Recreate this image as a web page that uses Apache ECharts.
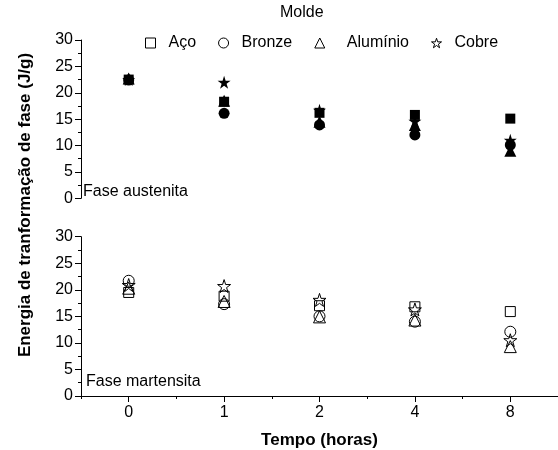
<!DOCTYPE html>
<html>
<head>
<meta charset="utf-8">
<script src="https://cdn.jsdelivr.net/npm/echarts@6/dist/echarts.min.js"></script>
<style>html,body{margin:0;padding:0;background:#fff}#c{width:558px;height:450px}</style>
</head>
<body>
<div id="c"></div>
<script>
var categories = ['0', '1', '2', '4', '8'];
var seriesNames = ['Aço', 'Bronze', 'Alumínio', 'Cobre'];
var yTicks = [0, 5, 10, 15, 20, 25, 30];

// Fase austenita (top panel, filled symbols)
var austAco      = [22.5, 18.3, 16.2, 15.8, 15.1];
var austBronze   = [22.4, 16.1, 13.9, 12.0, 10.1];
var austAluminio = [22.7, 18.5, 14.5, 13.9, 9.0];
var austCobre    = [22.5, 22.0, 16.7, 14.6, 11.0];

// Fase martensita (bottom panel, open symbols)
var martAco      = [19.5, 18.8, 17.0, 16.8, 15.9];
var martBronze   = [21.7, 17.3, 15.0, 14.0, 12.1];
var martAluminio = [20.3, 17.8, 14.9, 14.3, 9.3];
var martCobre    = [20.9, 20.7, 18.1, 16.3, 10.5];

var FONT = 'Liberation Sans, Arial, Helvetica, sans-serif';
var STAR = 'path://M50,0 L61.2,34.5 L97.6,34.5 L68.2,55.9 L79.4,90.5 L50,69.1 L20.6,90.5 L31.8,55.9 L2.4,34.5 L38.8,34.5 Z';
var symbols = ['rect', 'circle', 'triangle', STAR];
var sizes = [10, 11, 12, 13];

var austData = [austAco, austBronze, austAluminio, austCobre];
var martData = [martAco, martBronze, martAluminio, martCobre];

var chart = echarts.init(document.getElementById('c'), null, {renderer: 'canvas'});

var yMin = yTicks[0], yMax = yTicks[yTicks.length - 1];

function yMajor(gi) {
  return {
    type: 'value', gridIndex: gi, position: 'left', min: yMin, max: yMax, interval: 5,
    axisLine: {show: true, lineStyle: {color: '#000', width: 1}},
    axisTick: {show: true, inside: false, length: 6, lineStyle: {color: '#000', width: 1}},
    splitLine: {show: false},
    axisLabel: {color: '#000', fontSize: 16, fontFamily: FONT, margin: 8}
  };
}
function yMinor(gi) {
  return {
    type: 'value', gridIndex: gi, position: 'left', offset: 0, min: yMin, max: yMax, interval: 2.5,
    axisLine: {show: false},
    axisTick: {show: true, inside: false, length: 3, lineStyle: {color: '#000', width: 1}},
    splitLine: {show: false},
    axisLabel: {show: false}
  };
}

var series = [];
for (var i = 0; i < 4; i++) {
  series.push({
    name: seriesNames[i], type: 'scatter', xAxisIndex: 0, yAxisIndex: 0,
    symbol: symbols[i], symbolSize: sizes[i],
    itemStyle: {color: '#000', borderColor: '#000', borderWidth: 0, opacity: 1},
    data: austData[i]
  });
}
for (var j = 0; j < 4; j++) {
  series.push({
    name: seriesNames[j], type: 'scatter', xAxisIndex: 1, yAxisIndex: 2,
    symbol: symbols[j], symbolSize: sizes[j],
    itemStyle: {color: 'rgba(0,0,0,0)', borderColor: '#000', borderWidth: 1, opacity: 1},
    data: martData[j]
  });
}

var option = {
  animation: false,
  backgroundColor: '#fff',
  title: {
    text: 'Molde', left: 280, top: 5, padding: 0,
    textStyle: {fontSize: 16, fontWeight: 'normal', color: '#000', fontFamily: FONT}
  },
  legend: {
    left: 145, top: 35, padding: 0, itemGap: 22, itemWidth: 10, itemHeight: 10,
    itemStyle: {color: '#fff', borderColor: '#000', borderWidth: 1},
    textStyle: {fontSize: 16, color: '#000', fontFamily: FONT, padding: [0, 0, 0, 8]},
    data: [
      {name: seriesNames[0], icon: symbols[0]},
      {name: seriesNames[1], icon: symbols[1]},
      {name: seriesNames[2], icon: symbols[2], textStyle: {padding: [0, 0, 0, 17]}},
      {name: seriesNames[3], icon: symbols[3]}
    ]
  },
  grid: [
    {left: 81, top: 40, width: 486.5, height: 158.3},
    {left: 81, top: 236.7, width: 486.5, height: 160}
  ],
  xAxis: [
    {type: 'category', gridIndex: 0, data: categories, show: false},
    {type: 'category', gridIndex: 1, data: categories, position: 'bottom',
      axisLine: {show: true, lineStyle: {color: '#000', width: 1}},
      axisTick: {show: true, alignWithLabel: true, length: 6, lineStyle: {color: '#000'}},
      axisLabel: {color: '#000', fontSize: 16, fontFamily: FONT, margin: 9},
      splitLine: {show: false},
      name: 'Tempo (horas)', nameLocation: 'middle', nameGap: 36,
      nameTextStyle: {fontSize: 17, fontWeight: 'bold', color: '#000', fontFamily: FONT}
    },
    {type: 'category', gridIndex: 1, data: categories, position: 'bottom',
      axisLine: {show: false},
      axisTick: {show: true, alignWithLabel: false, length: 3, lineStyle: {color: '#000'}},
      axisLabel: {show: false}, splitLine: {show: false}
    }
  ],
  yAxis: [yMajor(0), yMinor(0), yMajor(1), yMinor(1)],
  graphic: [
    {type: 'text', left: 83, top: 184, style: {text: 'Fase austenita', fontSize: 16, fill: '#000', fontFamily: FONT}},
    {type: 'text', left: 86, top: 374, style: {text: 'Fase martensita', fontSize: 16, fill: '#000', fontFamily: FONT}},
    {type: 'text', x: 25, y: 205, rotation: Math.PI / 2,
      style: {text: 'Energia de tranformação de fase (J/g)', fontSize: 17, fontWeight: 'bold', fill: '#000',
        fontFamily: FONT, align: 'center', verticalAlign: 'middle'}}
  ],
  series: series
};
chart.setOption(option);
</script>
</body>
</html>
